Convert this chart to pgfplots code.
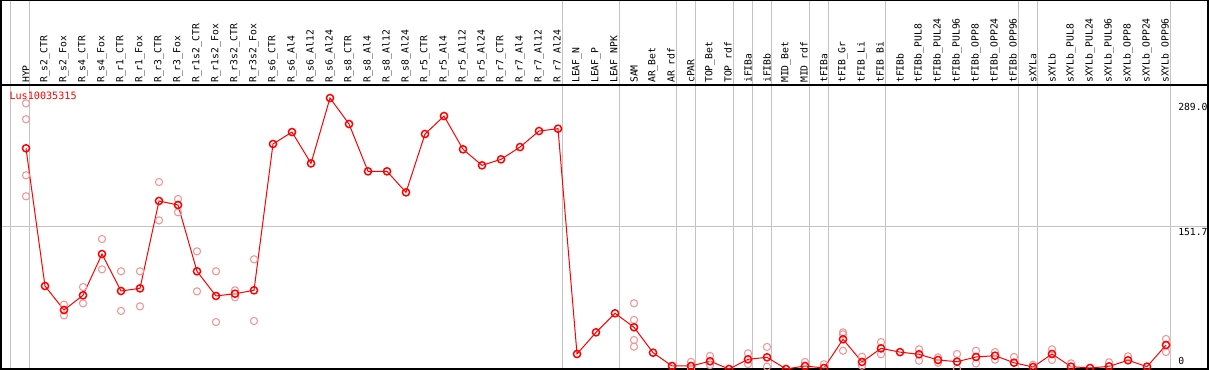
\documentclass[border=0pt]{standalone}
\usepackage{fontspec}
\setmonofont{DejaVu Sans Mono}
\usepackage{pgfplots}
\pgfplotsset{compat=1.18}
\usepackage{pgfplotstable}
\definecolor{meanred}{RGB}{255,0,0}
\definecolor{reppink}{RGB}{240,150,150}
\definecolor{gridgrey}{RGB}{195,195,195}

\pgfplotstableread{
x y
0 235.4
1 88.5
2 62.9
3 78.6
4 122.6
5 83.2
6 86.0
7 179.2
8 174.9
9 104.2
10 77.9
11 80.3
12 83.9
13 240.0
14 252.7
15 219.3
16 289.0
17 261.3
18 210.8
19 210.8
20 188.4
21 250.6
22 269.8
23 234.3
24 217.2
25 223.6
26 236.7
27 253.8
28 256.3
29 16.0
30 39.1
31 59.4
32 44.5
33 17.4
34 3.2
35 3.2
36 8.3
37 0.0
38 10.3
39 12.5
40 0.0
41 3.2
42 1.1
43 31.7
44 7.5
45 22.0
46 18.0
47 15.7
48 9.6
49 7.8
50 12.8
51 14.2
52 6.7
53 2.1
54 16.0
55 2.5
56 1.1
57 2.8
58 9.3
59 2.5
60 25.6
}\meantable

\pgfplotstableread{
x y
0 283.3
0 266.4
0 206.6
0 184.2
2 68.6
2 57.2
3 87.4
3 70.0
4 138.6
4 106.3
5 104.2
5 61.9
6 104.2
6 66.8
7 199.4
7 158.5
8 181.3
8 167.1
9 125.5
9 82.8
10 104.2
10 50.1
11 83.9
11 76.5
12 117.0
12 51.2
32 70.1
32 52.3
32 30.9
32 23.8
35 7.6
35 0.0
36 13.9
36 4.2
38 16.7
38 5.3
39 23.5
39 2.5
41 7.5
42 5.0
43 39.1
43 37.0
43 19.5
44 13.1
44 3.5
45 28.7
45 15.7
47 21.0
47 8.9
48 12.4
48 6.7
49 16.0
49 0.4
50 19.5
50 6.0
51 18.1
51 10.0
52 12.8
53 4.6
54 21.0
54 9.6
55 6.0
57 7.1
58 13.5
60 32.0
60 18.1
}\reptable

\begin{document}
\begin{tikzpicture}
\begin{axis}[
  width=905.25pt, height=213pt, scale only axis,
  xmin=-1.3158, xmax=62.2105, ymin=0, ymax=302.9,
  axis line style={draw=none},
  xtick={0,...,60},
  xticklabels={HYP,R\_s2\_CTR,R\_s2\_Fox,R\_s4\_CTR,R\_s4\_Fox,R\_r1\_CTR,R\_r1\_Fox,R\_r3\_CTR,R\_r3\_Fox,R\_r1s2\_CTR,R\_r1s2\_Fox,R\_r3s2\_CTR,R\_r3s2\_Fox,R\_s6\_CTR,R\_s6\_Al4,R\_s6\_Al12,R\_s6\_Al24,R\_s8\_CTR,R\_s8\_Al4,R\_s8\_Al12,R\_s8\_Al24,R\_r5\_CTR,R\_r5\_Al4,R\_r5\_Al12,R\_r5\_Al24,R\_r7\_CTR,R\_r7\_Al4,R\_r7\_Al12,R\_r7\_Al24,LEAF\_N,LEAF\_P,LEAF\_NPK,SAM,AR\_Bet,AR\_rdf,cPAR,TOP\_Bet,TOP\_rdf,iFIBa,iFIBb,MID\_Bet,MID\_rdf,tFIBa,tFIB\_Gr,tFIB\_Li,tFIB\_Bi,tFIBb,tFIBb\_PUL8,tFIBb\_PUL24,tFIBb\_PUL96,tFIBb\_OPP8,tFIBb\_OPP24,tFIBb\_OPP96,sXYLa,sXYLb,sXYLb\_PUL8,sXYLb\_PUL24,sXYLb\_PUL96,sXYLb\_OPP8,sXYLb\_OPP24,sXYLb\_OPP96},
  xticklabel pos=upper,
  x tick label style={rotate=90, anchor=west, inner sep=0pt, font=\ttfamily\fontsize{7.3}{8}\selectfont},
  xticklabel shift=1.5pt,
  major tick length=0pt,
  ytick=\empty,
  clip=false,
]
% separators
\foreach \v in {-0.7895,0.2105,28.2105,31.2105,34.2105,35.2105,37.2105,38.2105,39.2105,41.2105,42.2105,45.2105,52.2105,53.2105,60.2105}{
  \edef\temp{\noexpand\draw[gridgrey, line width=0.75pt] (axis cs:\v,0) -- (axis cs:\v,393.5);}
  \temp
}
\draw[gridgrey, line width=0.75pt] (axis cs:-1.3158,151.7) -- (axis cs:62.2105,151.7);
% frame
\draw[black, line width=1.5pt] (rel axis cs:0,0) rectangle (rel axis cs:1,1.2993);
\draw[black, line width=1.5pt] (rel axis cs:0,1) -- (rel axis cs:1,1);

\addplot[only marks, mark=o, mark size=2.7pt, mark options={reppink, line width=0.8pt}] table[x=x,y=y] {\reptable};
\addplot[meanred, line width=0.75pt, mark=o, mark size=2.7pt, mark options={meanred, line width=1.1pt}] table[x=x,y=y] {\meantable};

\node[anchor=north west, inner sep=0pt, text=meanred, font=\ttfamily\fontsize{7.6}{8}\selectfont] at (axis cs:-0.88,295.4) {Lus10035315};
\node[anchor=north west, inner sep=0pt, font=\ttfamily\fontsize{7.3}{8}\selectfont] at (axis cs:60.63,283.7) {289.0};
\node[anchor=north west, inner sep=0pt, font=\ttfamily\fontsize{7.3}{8}\selectfont] at (axis cs:60.63,150.4) {151.7};
\node[anchor=base west, inner sep=0pt, font=\ttfamily\fontsize{7.3}{8}\selectfont] at (axis cs:60.63,4.3) {0};
\end{axis}
\pgfresetboundingbox
\useasboundingbox ([shift={(-0.75pt,-0.75pt)}]current axis.south west) rectangle ([shift={(906pt,276.75pt)}]current axis.south west);
\end{tikzpicture}
\end{document}
